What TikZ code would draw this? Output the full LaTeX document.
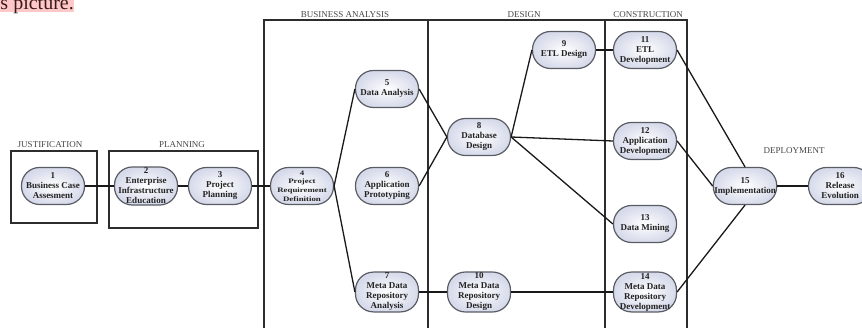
\documentclass[tikz,border=0pt]{standalone}
\usepackage{fontspec}
\setmainfont{Liberation Serif}
\newfontfamily\smallstretch[FakeStretch=1.3]{Liberation Serif}
\definecolor{pillborder}{RGB}{90,92,100}
\definecolor{pillouter}{RGB}{214,218,234}
\definecolor{pilltext}{RGB}{35,35,35}
\definecolor{phaseline}{RGB}{45,45,45}
\definecolor{phasetext}{RGB}{70,70,70}
\definecolor{linkcol}{RGB}{25,25,25}
\definecolor{hlpink}{RGB}{255,200,200}
\definecolor{hltext}{RGB}{60,25,25}
\begin{document}
\begin{tikzpicture}[x=1pt,y=-1pt,
  pill/.style={draw=pillborder, line width=1.2pt,
    rounded corners=18pt, minimum width=63pt, minimum height=37pt,
    inner sep=1pt, align=center,
    inner color=white, outer color=pillouter,
    font=\fontsize{9}{10}\selectfont\bfseries, text=pilltext},
  tinypill/.style={pill, font=\smallstretch\fontsize{6.8}{8.6}\selectfont\bfseries},
  phase/.style={draw=phaseline, line width=1.4pt},
  phaselabel/.style={font=\fontsize{9}{10}\selectfont, text=phasetext, inner sep=0pt},
  link/.style={draw=linkcol, line width=1.3pt}
]
\useasboundingbox (0,0) rectangle (862,328);

% cropped highlighted text at top-left
\fill[hlpink] (0,0) rectangle (74,12.5);
\begin{scope}
\clip (0,0) rectangle (862,328);
\node[anchor=base east, inner sep=0pt, font=\fontsize{20}{20}\selectfont,
  text=hltext] (hl) at (74,9.5) {s picture.};
\end{scope}

% phase boxes
\draw[phase] (11,151) rectangle (97,223);
\draw[phase] (109,151) rectangle (258,228);
\draw[phase] (264,340) -- (264,20) -- (687,20) -- (687,340);
\draw[phase] (428,20) -- (428,340);
\draw[phase] (605,20) -- (605,340);

% phase labels
\node[phaselabel] (lj) at (50,145) {JUSTIFICATION};
\node[phaselabel] (lp) at (182,145) {PLANNING};
\node[phaselabel] (lb) at (345,15) {BUSINESS ANALYSIS};
\node[phaselabel] (ld) at (524,15) {DESIGN};
\node[phaselabel] (lc) at (648,15) {CONSTRUCTION};
\node[phaselabel] (lde) at (794,151) {DEPLOYMENT};

% nodes
\node[pill] (n1) at (53,186) {1\\Business Case\\Assesment};
\node[pill] (n2) at (146,186) {2\\Enterprise\\Infrastructure\\Education};
\node[pill] (n3) at (220,186) {3\\Project\\Planning};
\node[tinypill] (n4) at (302,186) {4\\Project\\Requirement\\Definition};
\node[pill] (n5) at (387,89) {5\\Data Analysis};
\node[pill] (n6) at (387,186) {6\\Application\\Prototyping};
\node[pill] (n7) at (387,292) {7\\Meta Data\\Repository\\Analysis};
\node[pill] (n8) at (479,137) {8\\Database\\Design};
\node[pill] (n9) at (564,50) {9\\ETL Design};
\node[pill] (n10) at (479,292) {10\\Meta Data\\Repository\\Design};
\node[pill] (n11) at (645,50) {11\\ETL\\Development};
\node[pill] (n12) at (645,141) {12\\Application\\Development};
\node[pill] (n13) at (645,224) {13\\Data Mining};
\node[pill] (n14) at (645,292) {14\\Meta Data\\Repository\\Development};
\node[pill] (n15) at (745,186) {15\\Implementation};
\node[pill] (n16) at (840,186) {16\\Release\\Evolution};

% connectors
\draw[link] (n1.east) -- (n2.west);
\draw[link] (n2.east) -- (n3.west);
\draw[link] (n3.east) -- (n4.west);
\draw[link] (n4.east) -- (n5.west);
\draw[link] (n4.east) -- (n7.west);
\draw[link] (n5.east) -- (n8.west);
\draw[link] (n6.east) -- (n8.west);
\draw[link] (n7.east) -- (n10.west);
\draw[link] (n8.east) -- (n9.west);
\draw[link] (n8.east) -- (n12.west);
\draw[link] (n8.east) -- (n13.west);
\draw[link] (n9.east) -- (n11.west);
\draw[link] (n10.east) -- (n14.west);
\draw[link] (n11.east) -- (n15.north);
\draw[link] (n12.east) -- (n15.west);
\draw[link] (n14.east) -- (n15.south);
\draw[link] (n15.east) -- (n16.west);
\end{tikzpicture}
\end{document}
